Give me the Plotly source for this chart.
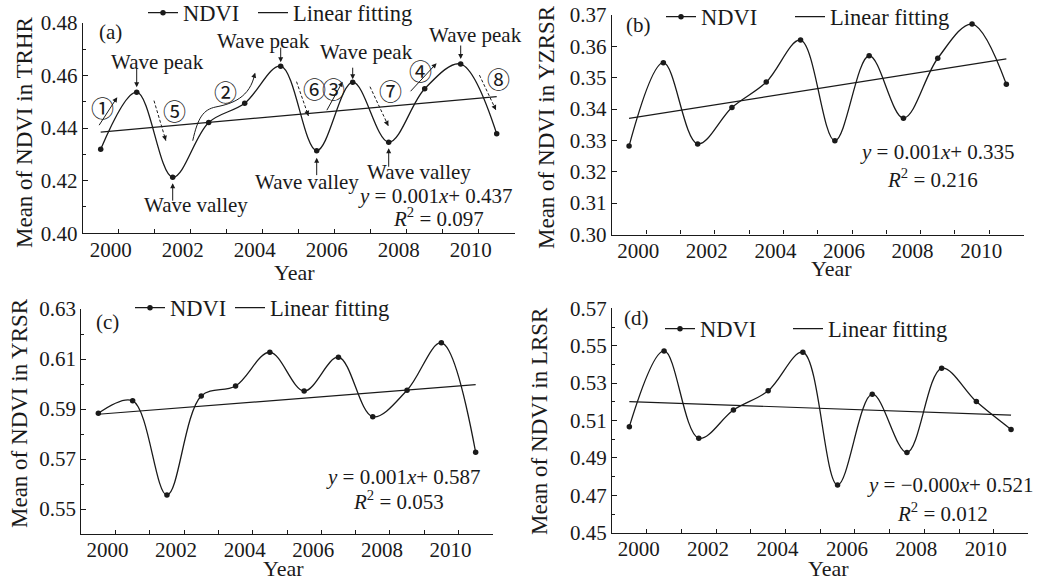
import numpy as np
import plotly.graph_objects as go

# ---------------- data ----------------
years = list(range(2000, 2012))
ndvi_trhr = [0.4319, 0.4536, 0.4213, 0.4421, 0.4494, 0.4635, 0.4314, 0.4574, 0.4346, 0.4549, 0.4643, 0.4378]
ndvi_yzrsr = [0.3282, 0.3548, 0.3289, 0.3405, 0.3486, 0.3620, 0.3299, 0.3570, 0.3371, 0.3562, 0.3671, 0.3479]
ndvi_yrsr = [0.5883, 0.5933, 0.5556, 0.5952, 0.5992, 0.6127, 0.5972, 0.6107, 0.5869, 0.5975, 0.6165, 0.5727]
ndvi_lrsr = [0.5067, 0.5472, 0.5005, 0.5156, 0.5259, 0.5465, 0.4755, 0.5241, 0.4929, 0.5379, 0.5201, 0.5052]

x_tick_labels = ["2000", "", "2002", "", "2004", "", "2006", "", "2008", "", "2010", ""]

regions = ["TRHR", "YZRSR", "YRSR", "LRSR"]
panel_letters = ["(a)", "(b)", "(c)", "(d)"]
equations = ["<i>y</i> = 0.001<i>x</i>+ 0.437", "<i>y</i> = 0.001<i>x</i>+ 0.335",
             "<i>y</i> = 0.001<i>x</i>+ 0.587", "<i>y</i> = \u22120.000<i>x</i>+ 0.521"]
r_squared = ["<i>R</i><sup>2</sup> = 0.097", "<i>R</i><sup>2</sup> = 0.216",
             "<i>R</i><sup>2</sup> = 0.053", "<i>R</i><sup>2</sup> = 0.012"]

y_ranges = [(0.40, 0.48), (0.30, 0.37), (0.54, 0.63), (0.45, 0.57)]
y_major = [[0.40, 0.42, 0.44, 0.46, 0.48],
           [0.30, 0.31, 0.32, 0.33, 0.34, 0.35, 0.36, 0.37],
           [0.55, 0.57, 0.59, 0.61, 0.63],
           [0.45, 0.47, 0.49, 0.51, 0.53, 0.55, 0.57]]
y_minor = [[0.41, 0.43, 0.45, 0.47],
           [],
           [0.54, 0.56, 0.58, 0.60, 0.62],
           [0.46, 0.48, 0.50, 0.52, 0.54, 0.56]]

# ---------------- styling / layout ----------------
W, H = 1046, 581
INK = "#1a1a1a"
FONT = "Liberation Serif, Times New Roman, serif"
CJK = "Noto Sans CJK SC"


def px(xp):
    return xp / W


def py(yp):
    return 1 - yp / H


# panel boxes in pixels: (left, right, top, bottom)
boxes = [(82.7, 514.7, 22.7, 233.3),
         (611.9, 1023.5, 15.0, 234.5),
         (81.2, 492.8, 309.0, 534.0),
         (612.0, 1028.4, 308.3, 532.7)]

series = [ndvi_trhr, ndvi_yzrsr, ndvi_yrsr, ndvi_lrsr]

fig = go.Figure()

for i, vals in enumerate(series):
    sfx = "" if i == 0 else str(i + 1)
    xa, ya = "x" + sfx, "y" + sfx
    fig.add_trace(go.Scatter(
        x=years, y=vals, mode="lines+markers", name="NDVI",
        line=dict(shape="spline", smoothing=1.0, color=INK, width=1.3),
        marker=dict(size=5.5, color=INK, symbol="circle"),
        xaxis=xa, yaxis=ya, legend="legend" + ("" if i == 0 else str(2 * i + 1)),
        hoverinfo="skip"))
    k, b = np.polyfit(np.array(years, dtype=float), np.array(vals), 1)
    fx = np.array([years[0], years[-1]], dtype=float)
    fig.add_trace(go.Scatter(
        x=fx, y=k * fx + b, mode="lines", name="Linear fitting",
        line=dict(color=INK, width=1.2),
        xaxis=xa, yaxis=ya, legend="legend" + str(2 * i + 2), hoverinfo="skip"))

layout = dict(width=W, height=H, margin=dict(l=0, r=0, t=0, b=0, autoexpand=False),
              paper_bgcolor="white", plot_bgcolor="white", showlegend=True,
              font=dict(family=FONT, size=21, color=INK))

for i in range(4):
    sfx = "" if i == 0 else str(i + 1)
    l, r, t, btm = boxes[i]
    layout["xaxis" + sfx] = dict(
        domain=[px(l), px(r)], range=[1999.5, 2011.5], anchor="y" + sfx,
        showline=True, linecolor=INK, linewidth=1.2, mirror=False,
        ticks="inside", ticklen=4, tickwidth=1, tickcolor=INK,
        tickvals=[yr + 0.5 for yr in years], ticktext=x_tick_labels,
        ticklabelshift=-8, ticklabelstandoff=-3,
        tickfont=dict(family=FONT, size=21, color=INK),
        showgrid=False, zeroline=False, fixedrange=True)
    layout["yaxis" + sfx] = dict(
        domain=[py(btm), py(t)], range=list(y_ranges[i]), anchor="x" + sfx,
        showline=True, linecolor=INK, linewidth=1.2, mirror=False,
        ticks="inside", ticklen=5, tickwidth=1, tickcolor=INK,
        tickvals=y_major[i], tickformat=".2f",
        minor=dict(tickvals=y_minor[i], ticks="inside", ticklen=3, tickcolor=INK, showgrid=False),
        tickfont=dict(family=FONT, size=21, color=INK),
        showgrid=False, zeroline=False, fixedrange=True)

# one legend per entry: (left of the entry text in px, y centre in px)
TEXT_OFFSET = 42
legend_pos = [(185, 13), (295, 13), (703, 17), (832, 17),
              (172, 308), (272, 308), (702, 329), (830, 329)]
for j, (tx, ty) in enumerate(legend_pos):
    key = "legend" if j == 0 else "legend" + str(j + 1)
    layout[key] = dict(
        orientation="h", x=px(tx - TEXT_OFFSET), y=py(ty), xanchor="left", yanchor="middle",
        xref="paper", yref="paper",
        font=dict(family=FONT, size=22.5, color=INK), bgcolor="rgba(0,0,0,0)",
        borderwidth=0, itemwidth=30, itemclick=False, itemdoubleclick=False)

fig.update_layout(**layout)

ann = []
ytitle_pos = [(25, 133), (546, 127), (19, 413), (539, 421)]
xtitle_pos = [(294, 272), (831, 268), (283, 568), (828, 568)]
letter_pos = [(97, 32), (624, 25), (94, 322), (622, 318)]
eq_pos = [(435, 196, 438, 217), (937, 152, 932, 178), (403, 477, 398, 500), (950, 485, 942, 512)]
for i in range(4):
    ann.append(dict(text="Mean of NDVI in " + regions[i], x=px(ytitle_pos[i][0]), y=py(ytitle_pos[i][1]),
                    xref="paper", yref="paper", showarrow=False, textangle=-90,
                    font=dict(family=FONT, size=23, color=INK), xanchor="center", yanchor="middle"))
    ann.append(dict(text="Year", x=px(xtitle_pos[i][0]), y=py(xtitle_pos[i][1]),
                    xref="paper", yref="paper", showarrow=False,
                    font=dict(family=FONT, size=22, color=INK), xanchor="center", yanchor="middle"))
    ann.append(dict(text=panel_letters[i], x=px(letter_pos[i][0]), y=py(letter_pos[i][1]),
                    xref="paper", yref="paper", showarrow=False,
                    font=dict(family=FONT, size=21, color=INK), xanchor="left", yanchor="middle"))
    ex, ey, rx, ry = eq_pos[i]
    ann.append(dict(text=equations[i], x=px(ex), y=py(ey), xref="paper", yref="paper", showarrow=False,
                    font=dict(family=FONT, size=21, color=INK), xanchor="center", yanchor="middle"))
    ann.append(dict(text=r_squared[i], x=px(rx), y=py(ry), xref="paper", yref="paper", showarrow=False,
                    font=dict(family=FONT, size=21, color=INK), xanchor="center", yanchor="middle"))

# panel (a): wave peaks / valleys (index of year, arrow dy px, standoff, text shift x, text shift y)
peaks = [(1, -20, 5, 21, 30), (5, -16, 4, -17, 25), (7, -13, 3, 14, 30), (10, -15, 5, 15, 29)]
valleys = [(2, 19, 6, 23, -28), (6, 19, 7, -10, -31), (8, 20, 6, 30, -30)]
for idx, dy, so, tx, ty in peaks:
    ann.append(dict(x=years[idx], y=ndvi_trhr[idx], xref="x", yref="y", text="", showarrow=True,
                    ax=0, ay=dy - so, standoff=so, arrowhead=2, arrowsize=1, arrowwidth=1, arrowcolor=INK))
    ann.append(dict(x=years[idx], y=ndvi_trhr[idx], xref="x", yref="y", text="Wave peak", showarrow=False,
                    xshift=tx, yshift=ty, font=dict(family=FONT, size=21, color=INK)))
for idx, dy, so, tx, ty in valleys:
    ann.append(dict(x=years[idx], y=ndvi_trhr[idx], xref="x", yref="y", text="", showarrow=True,
                    ax=0, ay=dy + so, standoff=so, arrowhead=2, arrowsize=1, arrowwidth=1, arrowcolor=INK))
    ann.append(dict(x=years[idx], y=ndvi_trhr[idx], xref="x", yref="y", text="Wave valley", showarrow=False,
                    xshift=tx, yshift=ty, font=dict(family=FONT, size=21, color=INK)))

# circled stage numbers in panel (a) data coordinates
circled = [("\u2460", 2000.04, 0.4481), ("\u2461", 2003.48, 0.4539), ("\u2462", 2006.47, 0.4551),
           ("\u2463", 2008.87, 0.4620), ("\u2464", 2002.04, 0.4468), ("\u2465", 2005.93, 0.4551),
           ("\u2466", 2008.04, 0.4544), ("\u2467", 2011.04, 0.4589)]
for txt, cx, cy in circled:
    ann.append(dict(x=cx, y=cy, xref="x", yref="y", text=txt, showarrow=False,
                    font=dict(family=CJK, size=23, color=INK)))

# solid straight arrows (tail -> tip)
solid_arrows = [((1999.93, 0.4405), (2000.46, 0.4517)),
                ((2006.26, 0.4462), (2006.72, 0.4576)),
                ((2008.57, 0.4534), (2009.33, 0.4646))]
for (x0, y0), (x1, y1) in solid_arrows:
    ann.append(dict(x=x1, y=y1, ax=x0, ay=y0, xref="x", yref="y", axref="x", ayref="y", text="",
                    showarrow=True, arrowhead=2, arrowsize=1, arrowwidth=1, arrowcolor=INK))

# dashed arrows (tail -> tip)
dashed_arrows = [((2001.48, 0.4504), (2001.81, 0.4352)),
                 ((2005.44, 0.4576), (2005.77, 0.4446)),
                 ((2007.48, 0.4557), (2007.99, 0.4408)),
                 ((2010.52, 0.4601), (2010.98, 0.4468))]
shapes = []
for (x0, y0), (x1, y1) in dashed_arrows:
    shapes.append(dict(type="line", x0=x0, y0=y0, x1=x1, y1=y1, xref="x", yref="y",
                       line=dict(color=INK, width=1, dash="3px,2px")))
    ann.append(dict(x=x1, y=y1, ax=x1 - 0.12 * (x1 - x0), ay=y1 - 0.12 * (y1 - y0),
                    xref="x", yref="y", axref="x", ayref="y", text="",
                    showarrow=True, arrowhead=2, arrowsize=1, arrowwidth=1, arrowcolor=INK))

# curved arrow (2)
shapes.append(dict(type="path", xref="x", yref="y",
                   path="M 2002.556,0.43518 C 2002.70,0.4440 2002.85,0.4470 2003.20,0.4480 "
                        "C 2003.65,0.4492 2004.15,0.4515 2004.28,0.4606",
                   line=dict(color=INK, width=1)))
ann.append(dict(x=2004.29, y=0.4610, ax=2004.26, ay=0.4596, xref="x", yref="y", axref="x", ayref="y",
                text="", showarrow=True, arrowhead=2, arrowsize=1, arrowwidth=1, arrowcolor=INK))

fig.update_layout(annotations=ann, shapes=shapes)
fig.write_html("out.html", config={"displayModeBar": False},
               post_script="document.body.style.margin='0';")
